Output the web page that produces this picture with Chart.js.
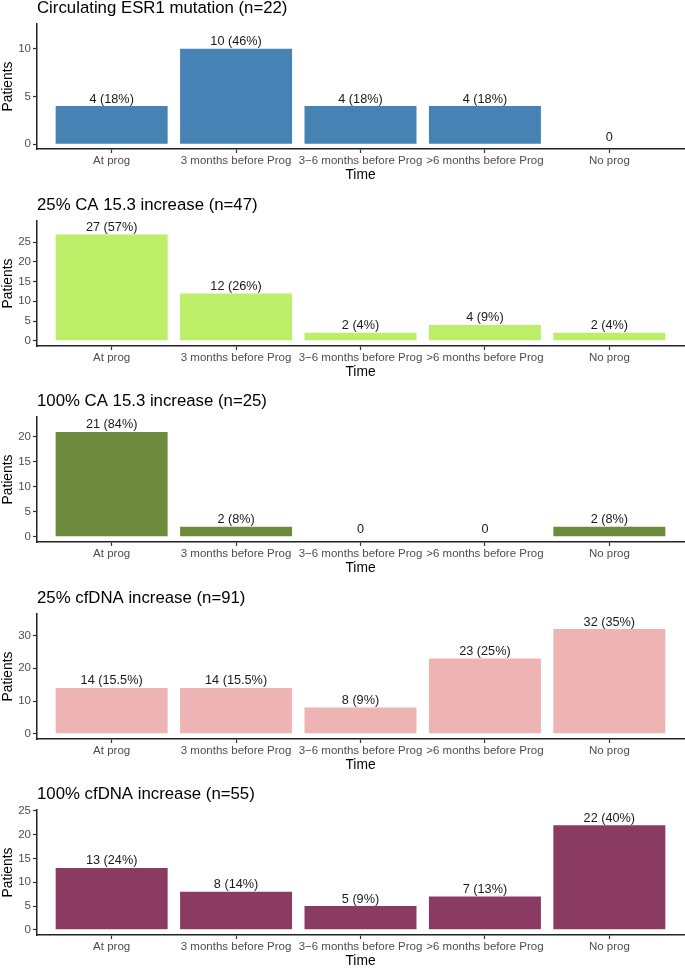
<!DOCTYPE html>
<html>
<head>
<meta charset="utf-8">
<script src="https://cdn.jsdelivr.net/npm/chart.js@4"></script>
<style>
  html, body { margin: 0; padding: 0; background: #fff; overflow: hidden; }
  #wrap { position: relative; width: 685px; height: 968px; }
  #wrap canvas { position: absolute; left: 0; }
</style>
</head>
<body>
<div id="wrap"></div>
<script>
const categories = ['At prog', '3 months before Prog', '3\u22126 months before Prog', '>6 months before Prog', 'No prog'];

const esr1Counts = [4, 10, 4, 4, 0];
const esr1Pct = ['18%', '46%', '18%', '18%', null];
const esr1Ticks = [0, 5, 10];

const ca25Counts = [27, 12, 2, 4, 2];
const ca25Pct = ['57%', '26%', '4%', '9%', '4%'];
const ca25Ticks = [0, 5, 10, 15, 20, 25];

const ca100Counts = [21, 2, 0, 0, 2];
const ca100Pct = ['84%', '8%', null, null, '8%'];
const ca100Ticks = [0, 5, 10, 15, 20];

const dna25Counts = [14, 14, 8, 23, 32];
const dna25Pct = ['15.5%', '15.5%', '9%', '25%', '35%'];
const dna25Ticks = [0, 10, 20, 30];

const dna100Counts = [13, 8, 5, 7, 22];
const dna100Pct = ['24%', '14%', '9%', '13%', '40%'];
const dna100Ticks = [0, 5, 10, 15, 20, 25];

const FONT = '"Liberation Sans", Arial, Helvetica, sans-serif';

const panels = [
    { title: 'Circulating ESR1 mutation (n=22)', counts: esr1Counts, pct: esr1Pct, ticks: esr1Ticks, color: '#4682B4', yMin: -0.5, yMax: 12.6, top: 0 },
    { title: '25% CA 15.3 increase (n=47)', counts: ca25Counts, pct: ca25Pct, ticks: ca25Ticks, color: '#BCEE68', yMin: -1.35, yMax: 30.4, top: 196.6 },
    { title: '100% CA 15.3 increase (n=25)', counts: ca100Counts, pct: ca100Pct, ticks: ca100Ticks, color: '#6E8B3D', yMin: -1.05, yMax: 24.0, top: 393.2 },
    { title: '25% cfDNA increase (n=91)', counts: dna25Counts, pct: dna25Pct, ticks: dna25Ticks, color: '#EEB4B4', yMin: -1.6, yMax: 36.6, top: 589.8 },
    { title: '100% cfDNA increase (n=55)', counts: dna100Counts, pct: dna100Pct, ticks: dna100Ticks, color: '#8B3A62', yMin: -1.1, yMax: 25.2, top: 786.4 }
];

// text above each bar, e.g. "4 (18%)"
const barLabels = {
    id: 'barLabels',
    afterDatasetsDraw(chart, args, opts) {
        const ctx = chart.ctx;
        const meta = chart.getDatasetMeta(0);
        ctx.save();
        ctx.font = '12.7px ' + FONT;
        ctx.fillStyle = '#1a1a1a';
        ctx.textAlign = 'center';
        ctx.textBaseline = 'alphabetic';
        meta.data.forEach((bar, i) => {
            const v = opts.counts[i];
            const txt = opts.pct[i] ? v + ' (' + opts.pct[i] + ')' : String(v);
            ctx.fillText(txt, bar.x, bar.y - 3.5);
        });
        ctx.restore();
    }
};

const wrap = document.getElementById('wrap');

panels.forEach(p => {
    const canvas = document.createElement('canvas');
    canvas.width = 685;
    canvas.height = 184;
    canvas.style.top = p.top + 'px';
    wrap.appendChild(canvas);

    new Chart(canvas, {
        type: 'bar',
        data: {
            datasets: [{
                data: p.counts.map((v, i) => ({ x: i, y: v })),
                backgroundColor: p.color,
                borderWidth: 0,
                categoryPercentage: 1,
                barPercentage: 0.9
            }]
        },
        plugins: [barLabels],
        options: {
            responsive: false,
            animation: false,
            layout: { padding: { left: 0, right: 1, top: 0, bottom: 0 } },
            plugins: {
                legend: { display: false },
                tooltip: { enabled: false },
                title: {
                    display: true,
                    text: p.title,
                    align: 'start',
                    fullSize: false,
                    color: '#000',
                    font: { family: FONT, size: 16.8, weight: 'normal', lineHeight: 1 },
                    padding: { top: 0, bottom: 7.2 }
                },
                barLabels: { counts: p.counts, pct: p.pct }
            },
            scales: {
                x: {
                    type: 'linear',
                    min: -0.6,
                    max: 4.6,
                    offset: false,
                    afterBuildTicks: s => { s.ticks = categories.map((c, i) => ({ value: i })); },
                    afterFit: s => { s.height = 35; },
                    grid: { offset: false, drawOnChartArea: false, tickLength: 4, tickColor: '#333', tickWidth: 1.2 },
                    border: { display: true, color: '#222', width: 1.5 },
                    ticks: {
                        autoSkip: false,
                        maxRotation: 0,
                        padding: 1,
                        color: '#4D4D4D',
                        font: { family: FONT, size: 11.5 },
                        callback: v => categories[v]
                    },
                    title: {
                        display: true,
                        text: 'Time',
                        color: '#000',
                        font: { family: FONT, size: 13.8 },
                        padding: { top: 0, bottom: 1 }
                    }
                },
                y: {
                    min: p.yMin,
                    max: p.yMax,
                    afterBuildTicks: s => { s.ticks = p.ticks.map(v => ({ value: v })); },
                    afterFit: s => { s.width = 37; },
                    grid: { drawOnChartArea: false, tickLength: 4, tickColor: '#333', tickWidth: 1.2 },
                    border: { display: true, color: '#222', width: 1.5 },
                    ticks: {
                        padding: 2,
                        color: '#4D4D4D',
                        font: { family: FONT, size: 11.5 }
                    },
                    title: {
                        display: true,
                        text: 'Patients',
                        color: '#000',
                        font: { family: FONT, size: 13.8 },
                        padding: { top: 0, bottom: 0 }
                    }
                }
            }
        }
    });
});
</script>
</body>
</html>
